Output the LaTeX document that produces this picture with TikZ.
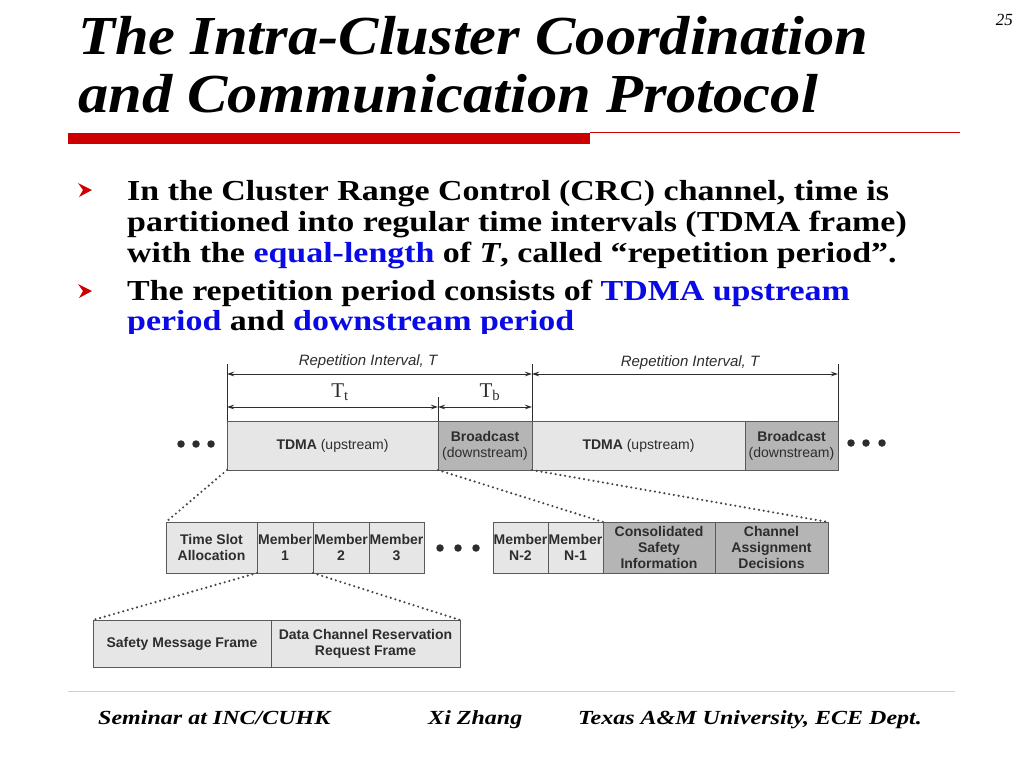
\documentclass[tikz,border=0pt]{standalone}
\usepackage{fontspec}
\setmainfont{Liberation Serif}
\newfontfamily\diagfont{Liberation Sans}
\usetikzlibrary{arrows.meta}
\definecolor{slidered}{RGB}{204,0,0}
\definecolor{slideblue}{RGB}{10,10,230}
\definecolor{boxline}{RGB}{90,90,90}
\definecolor{dotline}{RGB}{70,70,70}
\definecolor{lightfill}{RGB}{230,230,230}
\definecolor{darkfill}{RGB}{181,181,181}
\definecolor{diagtext}{RGB}{45,45,45}
\definecolor{footline}{RGB}{224,200,200}
\tikzset{
  titletext/.style={anchor=base west,inner sep=0pt,xscale=1.1,font=\fontsize{55}{55}\selectfont\bfseries\itshape},
  bullettext/.style={anchor=base west,inner sep=0pt,xscale=1.17,font=\fontsize{29}{29}\selectfont\bfseries},
  foottext/.style={anchor=base west,inner sep=0pt,xscale=1.2,font=\fontsize{20}{20}\selectfont\bfseries\itshape},
  slot/.style={draw=boxline,line width=0.8pt,anchor=north west,inner sep=0pt,outer sep=0pt,
    align=center,text=diagtext,font=\diagfont\fontsize{14}{16}\selectfont\bfseries},
  lightslot/.style={slot,fill=lightfill},
  darkslot/.style={slot,fill=darkfill},
  dimline/.style={draw=diagtext,line width=0.8pt},
  dimarrow/.style={dimline,{Stealth[length=7pt,width=4.5pt]}-{Stealth[length=7pt,width=4.5pt]}},
  zoomline/.style={draw=dotline,line width=2.4pt,line cap=round,dash pattern=on 0pt off 4.8pt},
  dimlabel/.style={text=diagtext,inner sep=0pt,font=\diagfont\fontsize{15}{15}\selectfont\itshape},
  tlabel/.style={text=diagtext,inner sep=0pt,font=\fontsize{21}{21}\selectfont},
  dotmark/.style={circle,fill=diagtext,inner sep=0pt,minimum size=7.5pt},
  bulletmark/.style={fill=slidered}
}
\begin{document}
\begin{tikzpicture}[x=1pt,y=-1pt]
\useasboundingbox (0,0) rectangle (1024,768);
\fill[white] (0,0) rectangle (1024,768);
% title
\node[titletext] (title1) at (78,55) {The Intra-Cluster Coordination};
\node[titletext] (title2) at (78,112) {and Communication Protocol};
\node[anchor=base east,inner sep=0pt,font=\fontsize{17}{17}\selectfont\itshape] (pagenum) at (1013,26) {25};
% red rule
\fill[slidered] (68,133) rectangle (590,144);
\draw[slidered,line width=1pt] (590,132.5) -- (960,132.5);
% bullets
\foreach \yy in {190,291}{
  \fill[bulletmark] (78,\yy-7) -- (92,\yy) -- (79,\yy+7) -- (83,\yy) -- cycle;
}
\node[bullettext] (b1a) at (127,200) {In the Cluster Range Control (CRC) channel, time is};
\node[bullettext] (b1b) at (127,231) {partitioned into regular time intervals (TDMA frame)};
\node[bullettext] (b1c) at (127,262) {with the \textcolor{slideblue}{equal-length} of \textit{T}, called “repetition period”.};
\node[bullettext] (b2a) at (127,300) {The repetition period consists of \textcolor{slideblue}{TDMA upstream}};
\node[bullettext] (b2b) at (127,330) {\textcolor{slideblue}{period} and \textcolor{slideblue}{downstream period}};
\fill[white] (100,334) rectangle (960,346);
% row 1
\node[lightslot,minimum width=211pt,minimum height=49pt] (tdmaA) at (227,421) {TDMA \mdseries(upstream)};
\node[darkslot,minimum width=94pt,minimum height=49pt] (bcA) at (438,421) {Broadcast\\\mdseries(downstream)};
\node[lightslot,minimum width=213pt,minimum height=49pt] (tdmaB) at (532,421) {TDMA \mdseries(upstream)};
\node[darkslot,minimum width=93pt,minimum height=49pt] (bcB) at (745,421) {Broadcast\\\mdseries(downstream)};
% dimension lines
\coordinate (t1) at (227,364);
\coordinate (t2) at (532,364);
\coordinate (t3) at (838,364);
\coordinate (t4) at (438,397);
\draw[dimline] (t1) -- (tdmaA.north west);
\draw[dimline] (t2) -- (tdmaB.north west);
\draw[dimline] (t3) -- (bcB.north east);
\draw[dimline] (t4) -- (bcA.north west);
\coordinate (r1) at (227,374);
\coordinate (r2) at (532,374);
\coordinate (r3) at (838,374);
\draw[dimarrow] (r1) -- (r2);
\draw[dimarrow] (r2) -- (r3);
\coordinate (s1) at (227,407);
\coordinate (s2) at (438,407);
\coordinate (s3) at (532,407);
\draw[dimarrow] (s1) -- (s2);
\draw[dimarrow] (s2) -- (s3);
\node[dimlabel] (rep1) at (368,362) {Repetition Interval, T};
\node[dimlabel] (rep2) at (690,363) {Repetition Interval, T};
\node[tlabel] (tt) at (340,392) {T\textsubscript{t}};
\node[tlabel] (tb) at (490,392) {T\textsubscript{b}};
% dots row 1
\node[dotmark] (dl1) at (181,444) {};
\node[dotmark] (dl2) at (196,444) {};
\node[dotmark] (dl3) at (211,444) {};
\node[dotmark] (dr1) at (851,443) {};
\node[dotmark] (dr2) at (866,443) {};
\node[dotmark] (dr3) at (882,443) {};
% row 2
\node[lightslot,minimum width=91pt,minimum height=51pt] (tsa) at (166,522) {Time Slot\\Allocation};
\node[lightslot,minimum width=56pt,minimum height=51pt] (m1) at (257,522) {Member\\1};
\node[lightslot,minimum width=56pt,minimum height=51pt] (m2) at (313,522) {Member\\2};
\node[lightslot,minimum width=55pt,minimum height=51pt] (m3) at (369,522) {Member\\3};
\node[dotmark] (dm1) at (440,548) {};
\node[dotmark] (dm2) at (458,548) {};
\node[dotmark] (dm3) at (476,548) {};
\node[lightslot,minimum width=55pt,minimum height=51pt] (mn2) at (493,522) {Member\\N-2};
\node[lightslot,minimum width=55pt,minimum height=51pt] (mn1) at (548,522) {Member\\N-1};
\node[darkslot,minimum width=112pt,minimum height=51pt] (csi) at (603,522) {Consolidated\\Safety\\Information};
\node[darkslot,minimum width=113pt,minimum height=51pt] (cad) at (715,522) {Channel\\Assignment\\Decisions};
% row 3
\node[lightslot,minimum width=178pt,minimum height=47pt] (smf) at (93,620) {Safety Message Frame};
\node[lightslot,minimum width=189pt,minimum height=47pt] (dcr) at (271,620) {Data Channel Reservation\\Request Frame};
% zoom lines
\draw[zoomline] (tdmaA.south west) -- (tsa.north west);
\draw[zoomline] (bcA.south west) -- (csi.north west);
\draw[zoomline] (bcA.south east) -- (cad.north east);
\draw[zoomline] (m1.south west) -- (smf.north west);
\draw[zoomline] (m1.south east) -- (dcr.north east);
% footer
\draw[footline,line width=1pt] (68,691) -- (955,691);
\node[foottext] (f1) at (98,724) {Seminar at INC/CUHK};
\node[foottext] (f2) at (428,724) {Xi Zhang};
\node[foottext] (f3) at (578,724) {Texas A\&M University, ECE Dept.};
\end{tikzpicture}
\end{document}
